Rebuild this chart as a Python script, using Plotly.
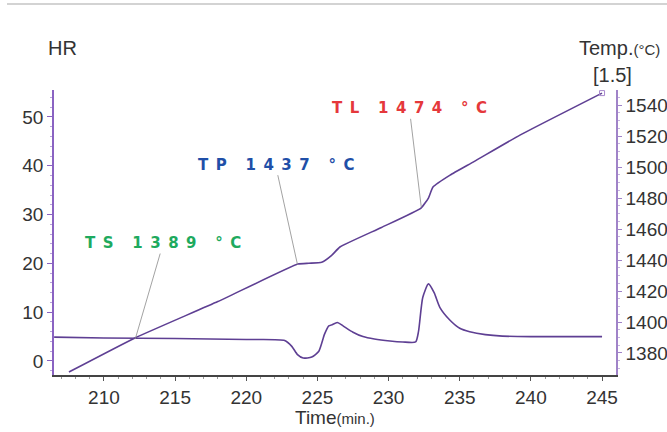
import plotly.graph_objects as go

# ---- data ----
hr_time = [206.5, 210, 215, 220, 222.7, 223.2, 223.6, 224.0, 224.6, 225.1, 225.5, 225.8,
           226.0, 226.4, 226.8, 227.5, 228.2, 229.0, 230.1, 231.0, 231.9, 232.1, 232.4,
           232.8, 233.2, 233.6, 234.3, 235.0, 235.7, 236.8, 238.0, 240.0, 245.0]
hr_vals = [4.9, 4.7, 4.6, 4.4, 4.2, 3.0, 1.3, 0.6, 0.8, 2.0, 5.5, 7.2,
           7.4, 7.9, 7.2, 5.9, 5.0, 4.5, 4.1, 3.9, 3.9, 6.0, 13.0,
           15.8, 14.0, 11.0, 8.4, 6.7, 6.0, 5.4, 5.1, 5.0, 5.0]

temp_time = [207.54, 212.18, 218.0, 223.63, 224.4, 225.3, 226.0, 226.58, 229.5,
             232.28, 232.8, 233.12, 234.32, 236.0, 239.23, 245.0]
temp_vals = [1367.7, 1389.7, 1413.2, 1437.4, 1437.9, 1438.5, 1443.0, 1448.4, 1461.0,
             1473.5, 1480.0, 1487.1, 1494.8, 1503.5, 1520.6, 1547.7]

label_names = ["TS", "TP", "TL"]
label_time = [212.2, 223.6, 232.3]
label_temp = [1389, 1437, 1474]
label_colors = ["#1eaa5e", "#1f4fa8", "#e5383b"]
label_offsets = [(28, -96), (-22, -100), (-12, -99)]

x_ticks = [210, 215, 220, 225, 230, 235, 240, 245]
hr_ticks = [0, 10, 20, 30, 40, 50]
temp_ticks = [1380, 1400, 1420, 1440, 1460, 1480, 1500, 1520, 1540]

CURVE = "#5e3f93"
FAMILY = "Liberation Sans, Arial, sans-serif"
TICKFONT = dict(family=FAMILY, size=19, color="#333333")

fig = go.Figure()
fig.add_trace(go.Scatter(x=hr_time, y=hr_vals, mode="lines",
                         line=dict(color=CURVE, width=1.6, shape="spline", smoothing=0.6),
                         yaxis="y", hoverinfo="skip"))
fig.add_trace(go.Scatter(x=temp_time, y=temp_vals, mode="lines",
                         line=dict(color=CURVE, width=1.6, shape="spline", smoothing=0.4),
                         yaxis="y2", hoverinfo="skip"))
fig.add_trace(go.Scatter(x=[temp_time[-1]], y=[temp_vals[-1]], mode="markers",
                         marker=dict(symbol="square-open", size=5, color="#a687cc"),
                         yaxis="y2", hoverinfo="skip"))


def spaced(word):
    return "\u2002".join(word)


annotations = []
for name, t, v, col, (ax, ay) in zip(label_names, label_time, label_temp, label_colors, label_offsets):
    txt = "\u2003\u2005".join([spaced(name), spaced(str(v)), spaced("°C")])
    annotations.append(dict(x=t, y=v, xref="x", yref="y2", text=txt, showarrow=True,
                            ax=ax, ay=ay, arrowhead=0, arrowwidth=0.8, arrowcolor="#8a8a8a",
                            standoff=0, startstandoff=0,
                            font=dict(family="DejaVu Sans", size=15, color=col, weight="bold")))

annotations += [
    dict(x=0.016, y=1.147, xref="paper", yref="paper", text="HR", showarrow=False,
         xanchor="center", yanchor="middle", font=dict(family=FAMILY, size=20, color="#333333")),
    dict(x=1.0819, y=1.147, xref="paper", yref="paper",
         text="Temp.<span style='font-size:15px'>(°C)</span>", showarrow=False,
         xanchor="right", yanchor="middle", font=dict(family=FAMILY, size=20, color="#333333")),
    dict(x=0.9929, y=1.0526, xref="paper", yref="paper", text="[1.5]", showarrow=False,
         xanchor="center", yanchor="middle", font=dict(family=FAMILY, size=20, color="#333333")),
    dict(x=0.5, y=-0.15, xref="paper", yref="paper",
         text="Time<span style='font-size:15px'>(min.)</span>", showarrow=False,
         xanchor="center", yanchor="middle", font=dict(family=FAMILY, size=19, color="#333333")),
]

fig.update_layout(
    width=667, height=432,
    margin=dict(l=54, r=51, t=90, b=57, autoexpand=False),
    paper_bgcolor="white", plot_bgcolor="white",
    showlegend=False,
    xaxis=dict(range=[206.49, 245.98], tickvals=x_ticks, showgrid=False, zeroline=False,
               showline=True, linecolor="#444444", linewidth=1.5,
               ticks="outside", ticklen=4, tickcolor="#555555", tickwidth=1,
               minor=dict(dtick=1, tick0=210, ticks="outside", ticklen=2, tickcolor="#999999"),
               tickfont=TICKFONT, fixedrange=True),
    yaxis=dict(range=[-2.87, 55.53], tickvals=hr_ticks, showgrid=False, zeroline=False,
               showline=True, linecolor="#8a63c2", linewidth=1.5,
               ticks="outside", ticklen=5, tickcolor="#8a63c2",
               minor=dict(dtick=2, tick0=0, ticks="outside", ticklen=2, tickcolor="#b9a3dc"),
               tickfont=TICKFONT, fixedrange=True),
    yaxis2=dict(range=[1365.8, 1549.7], tickvals=temp_ticks, overlaying="y", side="right",
                showgrid=False, zeroline=False,
                showline=True, linecolor="#a083c8", linewidth=1.5,
                ticks="outside", ticklen=4, tickcolor="#a083c8",
                minor=dict(dtick=5, tick0=1380, ticks="outside", ticklen=2, tickcolor="#c6b4e0"),
                tickfont=TICKFONT, fixedrange=True),
    annotations=annotations,
    shapes=[dict(type="line", xref="paper", yref="paper", x0=-0.0836, x1=1.2,
                 y0=1.3018, y1=1.3018, line=dict(color="#c4c4c4", width=1.5))],
)

fig.write_html("out.html", config={"displayModeBar": False},
               post_script="document.body.style.margin='0';document.body.style.overflow='hidden';")
